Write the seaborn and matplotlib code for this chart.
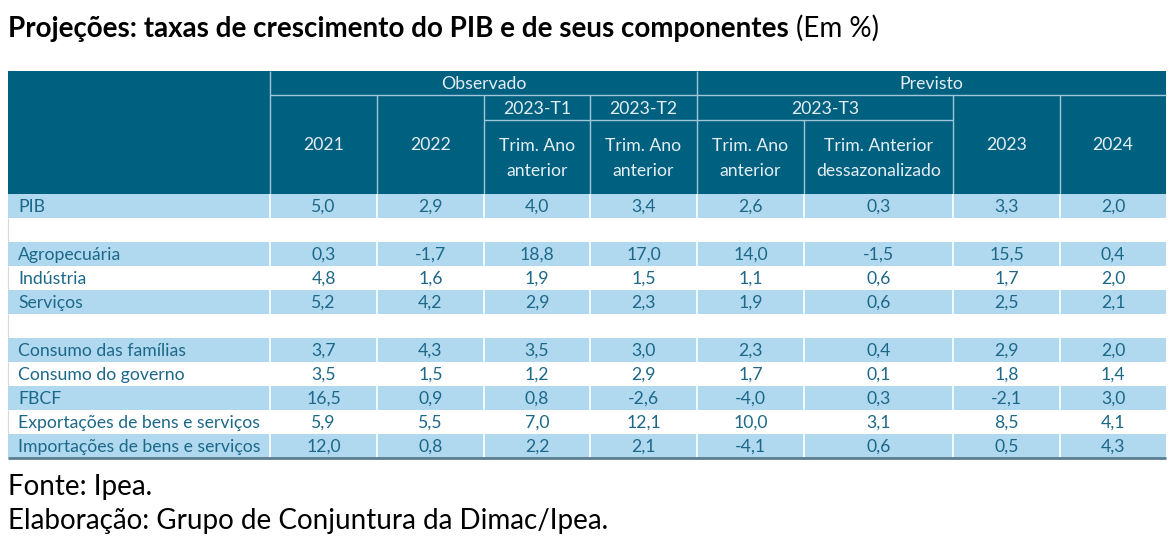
import matplotlib
matplotlib.use("Agg")
import matplotlib.pyplot as plt
from matplotlib.patches import Rectangle
import seaborn as sns

# ---- data -------------------------------------------------------------
row_labels = [
    "PIB", "",
    "Agropecuária", "Indústria", "Serviços", "",
    "Consumo das famílias", "Consumo do governo", "FBCF",
    "Exportações de bens e serviços", "Importações de bens e serviços",
]
row_values = [
    [5.0, 2.9, 4.0, 3.4, 2.6, 0.3, 3.3, 2.0],
    None,
    [0.3, -1.7, 18.8, 17.0, 14.0, -1.5, 15.5, 0.4],
    [4.8, 1.6, 1.9, 1.5, 1.1, 0.6, 1.7, 2.0],
    [5.2, 4.2, 2.9, 2.3, 1.9, 0.6, 2.5, 2.1],
    None,
    [3.7, 4.3, 3.5, 3.0, 2.3, 0.4, 2.9, 2.0],
    [3.5, 1.5, 1.2, 2.9, 1.7, 0.1, 1.8, 1.4],
    [16.5, 0.9, 0.8, -2.6, -4.0, 0.3, -2.1, 3.0],
    [5.9, 5.5, 7.0, 12.1, 10.0, 3.1, 8.5, 4.1],
    [12.0, 0.8, 2.2, 2.1, -4.1, 0.6, 0.5, 4.3],
]
group_labels = ["Observado", "Previsto"]
period_labels = ["2023-T1", "2023-T2", "2023-T3"]
col_headers = ["2021", "2022", "Trim. Ano\nanterior", "Trim. Ano\nanterior",
               "Trim. Ano\nanterior", "Trim. Anterior\ndessazonalizado",
               "2023", "2024"]
title_bold = "Projeções: taxas de crescimento do PIB e de seus componentes"
title_unit = "(Em %)"
notes = ["Fonte: Ipea.", "Elaboração: Grupo de Conjuntura da Dimac/Ipea."]

# ---- style ------------------------------------------------------------
sns.set_theme(style="white")
plt.rcParams["font.family"] = ["Lato", "DejaVu Sans"]

HEAD = "#00607f"
BAND = "#b0d8ef"
TXT = "#1c6889"
HTXT = "#e4eff5"
HLINE = "#9fc6d9"

# layout in pixels
col_x = [270, 377, 484, 590, 697, 804, 953, 1060, 1166]
left = 8
head_top, lvl1, lvl2, head_bot = 71, 95, 120, 194
row_h = 24
fs = 12.7

fig = plt.figure(figsize=(11.74, 5.52), dpi=100)
ax = fig.add_axes([0, 0, 1, 1])
ax.set_xlim(0, 1174)
ax.set_ylim(552, 0)
ax.axis("off")

# header block
ax.add_patch(Rectangle((left, head_top), col_x[-1] - left, head_bot - head_top,
                       facecolor=HEAD, edgecolor="none"))


def hline(y, x0, x1, color=HLINE, lw=1.0):
    ax.plot([x0, x1], [y, y], color=color, lw=lw, solid_capstyle="butt")


def vline(x, y0, y1, color=HLINE, lw=1.0):
    ax.plot([x, x], [y0, y1], color=color, lw=lw, solid_capstyle="butt")


hline(lvl1, col_x[0], col_x[-1])
hline(lvl2, col_x[2], col_x[6])
vline(col_x[0], head_top, head_bot)
vline(col_x[4], head_top, head_bot)
for i in (1, 2, 3, 6, 7):
    vline(col_x[i], lvl1, head_bot)
vline(col_x[5], lvl2, head_bot)

ax.text((col_x[0] + col_x[4]) / 2, (head_top + lvl1) / 2 + 1, group_labels[0],
        ha="center", va="center", color=HTXT, fontsize=fs)
ax.text((col_x[4] + col_x[-1]) / 2, (head_top + lvl1) / 2 + 1, group_labels[1],
        ha="center", va="center", color=HTXT, fontsize=fs)
spans = [(2, 3), (3, 4), (4, 6)]
for lab, (a, b) in zip(period_labels, spans):
    ax.text((col_x[a] + col_x[b]) / 2, (lvl1 + lvl2) / 2 + 1, lab,
            ha="center", va="center", color=HTXT, fontsize=fs)
for j, lab in enumerate(col_headers):
    cx = (col_x[j] + col_x[j + 1]) / 2
    parts = lab.split("\n")
    if len(parts) == 1:
        ax.text(cx, (lvl1 + head_bot) / 2, lab, ha="center", va="center",
                color=HTXT, fontsize=fs)
    else:
        ax.text(cx, 146, parts[0], ha="center", va="center", color=HTXT, fontsize=fs)
        ax.text(cx, 171, parts[1], ha="center", va="center", color=HTXT, fontsize=fs)

# body rows
shade = False
y = head_bot
for lab, vals in zip(row_labels, row_values):
    if vals is None:
        shade = False
        vline(left, y, y + row_h, color="#d9d9d9", lw=0.8)
        y += row_h
        continue
    shade = not shade
    if shade:
        ax.add_patch(Rectangle((left, y), col_x[-1] - left, row_h,
                               facecolor=BAND, edgecolor="none"))
        for x in col_x[:-1]:
            vline(x, y, y + row_h, color="white", lw=1.2)
    else:
        vline(left, y, y + row_h, color="#d9d9d9", lw=0.8)
    ax.text(18, y + row_h / 2 + 1, lab, ha="left", va="center",
            color=TXT, fontsize=fs)
    for j, v in enumerate(vals):
        cx = (col_x[j] + col_x[j + 1]) / 2
        ax.text(cx, y + row_h / 2 + 1, f"{v:.1f}".replace(".", ","),
                ha="center", va="center", color=TXT, fontsize=fs)
    y += row_h

hline(y, left, col_x[-1], color="#5b7f91", lw=2.0)

# title and notes
t = ax.text(8, 37, title_bold, ha="left", va="baseline", fontsize=20,
            fontweight="bold", color="black")
fig.canvas.draw()
bb = t.get_window_extent(renderer=fig.canvas.get_renderer())
ax.text(bb.x1 + 7, 37, title_unit, ha="left", va="baseline", fontsize=20,
        color="black")
ax.text(8, 495, notes[0], ha="left", va="baseline", fontsize=20, color="black")
ax.text(8, 529, notes[1], ha="left", va="baseline", fontsize=20, color="black")

fig.savefig("out.png", dpi=100)
